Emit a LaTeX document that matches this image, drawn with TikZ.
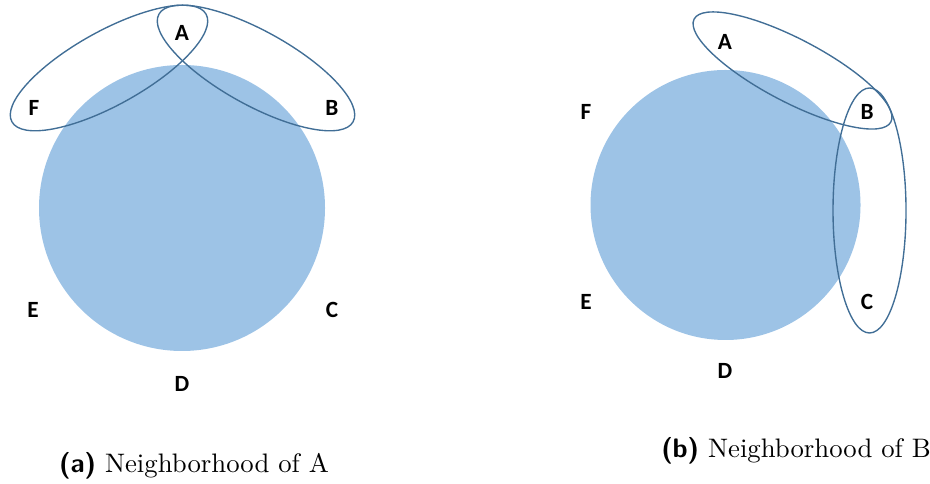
\documentclass[tikz,border=0pt]{standalone}
\usepackage{fontspec}
\newfontfamily\lblfont{Carlito}
\definecolor{diskblue}{RGB}{157,195,230}
\definecolor{rimblue}{RGB}{65,110,150}
\begin{document}
\begin{tikzpicture}[x=0.4pt,y=0.4pt,
  lbl/.style={font=\lblfont\bfseries\fontsize{9.3}{11}\selectfont,inner sep=0pt},
  nbhd/.style={draw=rimblue,line width=0.55pt},
  subcap/.style={font=\fontsize{10.7}{13}\selectfont,inner sep=0pt}]
\useasboundingbox (0,0) rectangle (930,484);
% Panel (a)
\fill[diskblue] (182,276) circle (143);
\draw[nbhd,rotate around={29:(109,416)}] (109,416) ellipse [x radius=111,y radius=37];
\draw[nbhd,rotate around={-29:(256,416)}] (256,416) ellipse [x radius=111,y radius=37];
\node[lbl] (aA) at (182,451) {A};
\node[lbl] (aB) at (332,376) {B};
\node[lbl] (aC) at (332,174) {C};
\node[lbl] (aD) at (182,100) {D};
\node[lbl] (aE) at (33,174) {E};
\node[lbl] (aF) at (34,376) {F};
\node[subcap] (capA) at (194,18) {{\sffamily\bfseries (a)} Neighborhood of A};
% Panel (b)
\fill[diskblue] (725.5,279) circle (135);
\draw[nbhd,rotate around={-27.6:(792.5,413.5)}] (792.5,413.5) ellipse [x radius=111,y radius=31.6];
\draw[nbhd] (869.5,273.5) ellipse [x radius=36.5,y radius=122.5];
\node[lbl] (bA) at (725,442) {A};
\node[lbl] (bB) at (867,372) {B};
\node[lbl] (bC) at (867,182) {C};
\node[lbl] (bD) at (725,113) {D};
\node[lbl] (bE) at (586,182) {E};
\node[lbl] (bF) at (586,372) {F};
\node[subcap] (capB) at (796,33) {{\sffamily\bfseries (b)} Neighborhood of B};
\end{tikzpicture}
\end{document}
